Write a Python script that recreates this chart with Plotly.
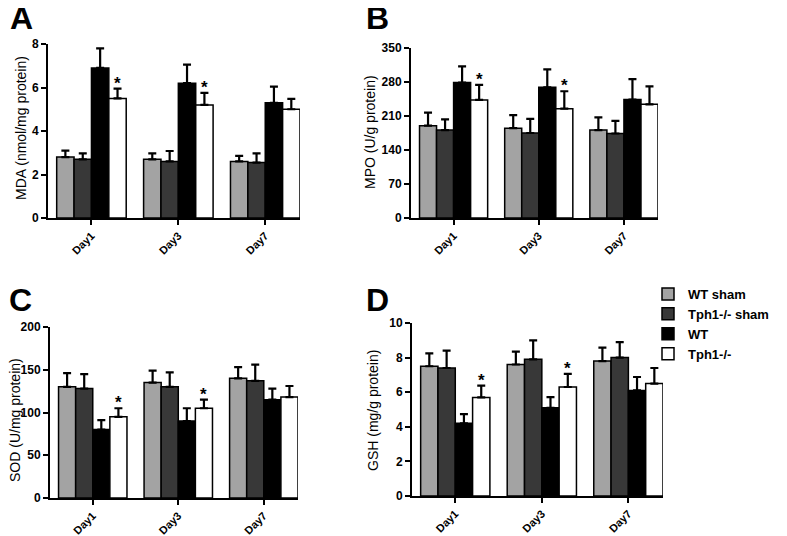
import plotly.graph_objects as go

W, H = 787, 536
OFF = 8  # the page body adds an 8 px margin around the figure

days = ["Day1", "Day3", "Day7"]
groups = ["WT sham", "Tph1-/- sham", "WT", "Tph1-/-"]
colors = ["#a3a3a3", "#383838", "#000000", "#ffffff"]

# Panel A: MDA (nmol/mg protein)
mda_mean = {"WT sham": [2.8, 2.7, 2.6], "Tph1-/- sham": [2.7, 2.6, 2.55],
            "WT": [6.9, 6.2, 5.3], "Tph1-/-": [5.5, 5.2, 5.0]}
mda_err = {"WT sham": [0.3, 0.27, 0.26], "Tph1-/- sham": [0.27, 0.48, 0.42],
           "WT": [0.9, 0.85, 0.74], "Tph1-/-": [0.45, 0.55, 0.48]}
# Panel B: MPO (U/g protein)
mpo_mean = {"WT sham": [190, 185, 181], "Tph1-/- sham": [181, 175, 174],
            "WT": [279, 269, 244], "Tph1-/-": [243, 225, 234]}
mpo_err = {"WT sham": [27, 27, 26], "Tph1-/- sham": [22, 29, 26],
           "WT": [33, 37, 42], "Tph1-/-": [31, 36, 37]}
# Panel C: SOD (U/mg protein)
sod_mean = {"WT sham": [130, 135, 140], "Tph1-/- sham": [128, 130, 137],
            "WT": [80, 90, 115], "Tph1-/-": [95, 105, 118]}
sod_err = {"WT sham": [16, 14, 13], "Tph1-/- sham": [17, 17, 19],
           "WT": [11, 15, 13], "Tph1-/-": [10, 10, 13]}
# Panel D: GSH (mg/g protein)
gsh_mean = {"WT sham": [7.5, 7.6, 7.8], "Tph1-/- sham": [7.4, 7.9, 8.0],
            "WT": [4.2, 5.1, 6.1], "Tph1-/-": [5.7, 6.3, 6.5]}
gsh_err = {"WT sham": [0.75, 0.74, 0.78], "Tph1-/- sham": [1.0, 1.1, 0.9],
           "WT": [0.53, 0.62, 0.78], "Tph1-/-": [0.68, 0.76, 0.9]}

# significance (*) on Tph1-/- bars
star = [True, True, False]

panels = [
    dict(letter="A", title="MDA (nmol/mg protein)", mean=mda_mean, err=mda_err,
         yr=[0, 8], ticks=[0, 2, 4, 6, 8],
         px=(48, 300), py=(44, 218), letter_xy=(9, -1), title_xy=(21, 128)),
    dict(letter="B", title="MPO (U/g protein)", mean=mpo_mean, err=mpo_err,
         yr=[0, 350], ticks=[0, 70, 140, 210, 280, 350],
         px=(411, 658), py=(48, 218), letter_xy=(365, -1), title_xy=(370, 132)),
    dict(letter="C", title="SOD (U/mg protein)", mean=sod_mean, err=sod_err,
         yr=[0, 200], ticks=[0, 50, 100, 150, 200],
         px=(50, 298), py=(327, 498), letter_xy=(8, 281), title_xy=(15, 420)),
    dict(letter="D", title="GSH (mg/g protein)", mean=gsh_mean, err=gsh_err,
         yr=[0, 10], ticks=[0, 2, 4, 6, 8, 10],
         px=(412, 663), py=(323, 496), letter_xy=(365, 281), title_xy=(373, 411)),
]


def fx(px):
    return (px - OFF) / W


def fy(py):
    return 1 - (py - OFF) / H


FONT = "Arial, Liberation Sans, sans-serif"
fig = go.Figure()
layout = dict(
    width=W, height=H, margin=dict(l=0, r=0, t=0, b=0, autoexpand=False),
    paper_bgcolor="white", plot_bgcolor="white",
    barmode="group", bargap=0.2, bargroupgap=0,
    font=dict(family=FONT, color="black"),
    showlegend=True,
    legend=dict(x=fx(648), y=fy(279), xanchor="left", yanchor="top",
                font=dict(family=FONT, size=13, color="black", weight="bold"),
                bgcolor="rgba(0,0,0,0)", itemwidth=30, tracegroupgap=0),
)
annotations = []
xs = list(range(len(days)))
for k, p in enumerate(panels):
    sfx = "" if k == 0 else str(k + 1)
    for gi, g in enumerate(groups):
        fig.add_trace(go.Bar(
            x=xs, y=p["mean"][g], name=g,
            marker=dict(color=colors[gi], line=dict(color="black", width=1.5)),
            error_y=dict(type="data", array=p["err"][g], symmetric=False,
                         arrayminus=[0] * len(days), color="black",
                         thickness=2.2, width=4),
            xaxis="x" + sfx, yaxis="y" + sfx,
            showlegend=(k == 0), legendgroup=g,
        ))
    x0, x1 = p["px"]
    y0, y1 = p["py"]
    layout["xaxis" + sfx] = dict(
        domain=[fx(x0), fx(x1)], anchor="y" + sfx, range=[-0.5, 2.4],
        tickvals=xs, ticktext=days, tickangle=-45, automargin=False,
        showline=True, linecolor="black", linewidth=2,
        ticks="outside", ticklen=5, tickwidth=2, tickcolor="black",
        showgrid=False, zeroline=False,
        tickfont=dict(family=FONT, size=11, color="black", weight="bold"),
    )
    layout["yaxis" + sfx] = dict(
        domain=[fy(y1), fy(y0)], anchor="x" + sfx, range=p["yr"],
        tickvals=p["ticks"], automargin=False,
        showline=True, linecolor="black", linewidth=2,
        ticks="outside", ticklen=5, tickwidth=2, tickcolor="black",
        showgrid=False, zeroline=False,
        tickfont=dict(family=FONT, size=12, color="black", weight="bold"),
    )
    # panel letter
    lx, ly = p["letter_xy"]
    annotations.append(dict(text=p["letter"], x=fx(lx), y=fy(ly),
                            xref="paper", yref="paper", xanchor="left", yanchor="top",
                            showarrow=False, borderpad=0,
                            font=dict(family=FONT, size=32, color="black", weight="bold")))
    # y title
    tx, ty = p["title_xy"]
    annotations.append(dict(text=p["title"], x=fx(tx), y=fy(ty),
                            xref="paper", yref="paper", xanchor="center", yanchor="middle",
                            textangle=-90, showarrow=False,
                            font=dict(family=FONT, size=14, color="black")))
    # significance stars
    for di in range(len(days)):
        if star[di]:
            top = p["mean"]["Tph1-/-"][di] + p["err"]["Tph1-/-"][di]
            annotations.append(dict(text="*", x=di + 0.3, y=top,
                                    xref="x" + sfx, yref="y" + sfx,
                                    xanchor="center", yanchor="bottom", yshift=-6,
                                    showarrow=False,
                                    font=dict(family=FONT, size=17, color="black", weight="bold")))

layout["annotations"] = annotations
fig.update_layout(**layout)
fig.write_html("out.html")
